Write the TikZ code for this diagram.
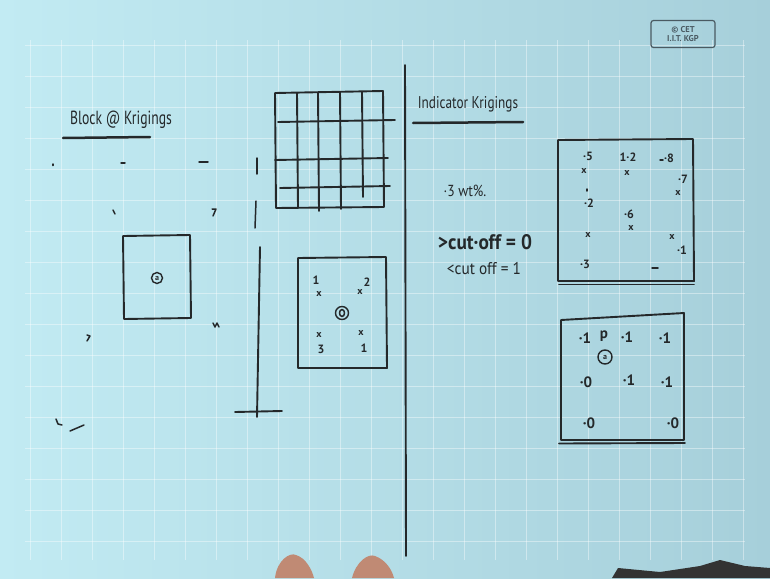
\documentclass[tikz,border=0pt]{standalone}
\usepackage{graphicx}
\usepackage{fontspec}
\setmainfont{PT Sans}
\definecolor{boardL}{HTML}{C2EBF3}
\definecolor{boardR}{HTML}{A6CFDA}
\definecolor{inkc}{HTML}{24282A}
\definecolor{skin}{HTML}{C08A74}
\definecolor{cetc}{HTML}{4A5A62}
\tikzset{
  ink/.style={draw=inkc, line width=1.9pt, line cap=round, line join=round},
  thinink/.style={draw=inkc, line width=1.5pt, line cap=round, line join=round},
  hand/.style={text=inkc, inner sep=0pt, font=\fontsize{12}{12}\bfseries\selectfont},
  xm/.style={text=inkc, inner sep=0pt, font=\fontsize{10}{10}\bfseries\selectfont},
  big/.style={text=inkc, inner sep=0pt, font=\fontsize{15}{15}\bfseries\selectfont},
  gridln/.style={draw=white, opacity=0.4, line width=0.8pt},
  ring/.style={circle, draw=inkc, line width=1.4pt, inner sep=0pt, minimum size=11pt, text=inkc, font=\fontsize{8}{8}\bfseries\selectfont}
}
\begin{document}
\begin{tikzpicture}[x=1pt,y=-1pt]
\useasboundingbox (0,0) rectangle (770,578);
% board
\shade[left color=boardL, right color=boardR] (0,0) rectangle (770,578);
\foreach \x in {30,61,...,745} \draw[gridln] (\x,40) -- (\x,560);
\foreach \y in {45,76,...,560} \draw[gridln] (25,\y) -- (745,\y);
% copyright
\node[draw=cetc, rounded corners=2.5pt, line width=1.2pt, inner sep=2pt, align=center,
      minimum width=64pt, minimum height=27pt,
      text=cetc, font=\fontsize{8.5}{9}\selectfont\bfseries] (cet) at (683,34) {© CET\\I.I.T. KGP};
% divider
\draw[ink] (405,65) -- (406,556);
% ---------------- left: block kriging
\node[text=inkc, inner sep=0pt, font=\fontsize{19}{19}\selectfont] (title1) at (121,120) {\scalebox{0.72}[1]{Block @ Krigings}};
\coordinate (u1a) at (63,138); \coordinate (u1b) at (150,137);
\draw[ink, line width=2.5pt] (u1a) -- (u1b);
% scattered marks
\draw[thinink] (53,164) -- (53,165.5);
\draw[thinink] (121,163) -- (125,163);
\draw[thinink] (199,162) -- (208,162);
\draw[thinink] (113,210) -- (115,214);
\draw[thinink] (212,209) -- (216,209) -- (213,216);
\draw[thinink] (213,323) -- (215,327) -- (217,323) -- (219,327);
\draw[thinink] (87,335) -- (90,336) -- (87,341);
\draw[thinink] (56,419) -- (58,424) -- (62,425);
\draw[thinink] (70,431) -- (84,425);
% block square
\draw[ink] (123,236) -- (190,235) -- (191,318) -- (124,319) -- cycle;
\node[ring] (blk) at (157,278) {a};
% side lines
\draw[thinink] (257,158) -- (257,174);
\draw[thinink] (256,201) -- (255,228);
\draw[ink] (260,247) -- (257,417);
\draw[ink] (235,412) -- (282,411);
% grid box
\draw[ink] (275,93) -- (383,91) -- (384,207) -- (276,208) -- cycle;
\draw[ink] (297,93) -- (298,208);
\draw[ink] (318,93) -- (319,211);
\draw[ink] (340,92) -- (341,209);
\draw[ink] (362,92) -- (363,197);
\draw[ink] (278,122) -- (395,120);
\draw[ink] (275,160) -- (388,158);
\draw[ink] (280,188) -- (390,186);
% point box
\draw[ink] (298,258) -- (386,257) -- (387,368) -- (298,368) -- cycle;
\node[hand] (p1l) at (316,280) {1};
\node[xm] (p1x) at (319,294) {x};
\node[hand] (p2l) at (367,282) {2};
\node[xm] (p2x) at (360,292) {x};
\node[ring, minimum size=13pt] (p0) at (342,313) {};
\draw[thinink] (p0.center) ellipse (2.5pt and 3.5pt);
\node[xm] (p3x) at (319,335) {x};
\node[hand] (p3l) at (321,349) {3};
\node[xm] (p4x) at (361,333) {x};
\node[hand] (p4l) at (364,348) {1};
% ---------------- right: indicator kriging
\node[text=inkc, inner sep=0pt, font=\fontsize{17}{17}\selectfont] (title2) at (468,104) {\scalebox{0.78}[1]{Indicator Krigings}};
\coordinate (u2a) at (413,123); \coordinate (u2b) at (523,122);
\draw[ink, line width=2.5pt] (u2a) -- (u2b);
\node[text=inkc, inner sep=0pt, font=\fontsize{16}{16}\selectfont] (wt) at (465,191) {\scalebox{0.85}[1]{·3 wt\%.}};
\node[text=inkc, inner sep=0pt, font=\fontsize{21}{21}\bfseries\selectfont] (gt) at (485,242) {\scalebox{0.92}[1]{>cut·off = 0}};
\node[text=inkc, inner sep=0pt, font=\fontsize{17}{17}\selectfont] (lt) at (484,269) {\scalebox{0.9}[1]{<cut off = 1}};
% top data box
\draw[ink] (558,140) -- (693,139) -- (694,281) -- (558,281) -- cycle;
\draw[ink] (559,284.5) -- (694,284.5);
\node[hand] (v1) at (588,156) {·5};
\node[xm] (x1) at (584,171) {x};
\node[hand] (v2) at (628,157) {1·2};
\node[xm] (x2) at (627,173) {x};
\draw[thinink] (660,160) -- (663,160);
\node[hand] (v3) at (669,158) {·8};
\node[hand] (v4) at (683,179) {·7};
\node[xm] (x4) at (678,193) {x};
\draw[thinink] (587,189) -- (587,191);
\node[hand] (v5) at (589,203) {·2};
\node[hand] (v6) at (629,214) {·6};
\node[xm] (x6) at (631,228) {x};
\node[xm] (x7) at (588,235) {x};
\node[xm] (x8) at (672,237) {x};
\node[hand] (v8) at (682,250) {·1};
\node[hand] (v9) at (585,264) {·3};
\draw[thinink] (652,268) -- (658,268);
% bottom indicator box
\draw[ink] (561,320) -- (684,313) -- (684,440) -- (561,440) -- cycle;
\draw[ink] (559,443.5) -- (685,443);
\node[big] (i1) at (585,338) {·1};
\node[big] (ip) at (604,336) {p};
\node[big] (i2) at (627,337) {·1};
\node[big] (i3) at (665,338) {·1};
\node[ring, minimum size=14pt] (est) at (605,357) {a};
\node[big] (i4) at (586,382) {·0};
\node[big] (i5) at (629,380) {·1};
\node[big] (i6) at (667,382) {·1};
\node[big] (i7) at (589,423) {·0};
\node[big] (i8) at (673,423) {·0};
% hands / objects at the bottom edge
\fill[skin] (275,578) .. controls (277,560) and (290,552) .. (296,555) .. controls (306,558) and (312,570) .. (314,578) -- cycle;
\fill[skin] (352,578) .. controls (356,562) and (368,553) .. (375,556) .. controls (386,560) and (392,570) .. (394,578) -- cycle;
\fill[black!80] (612,578) -- (618,568) -- (660,572) -- (700,566) -- (720,560) -- (745,566) -- (770,568) -- (770,578) -- cycle;
\end{tikzpicture}
\end{document}
